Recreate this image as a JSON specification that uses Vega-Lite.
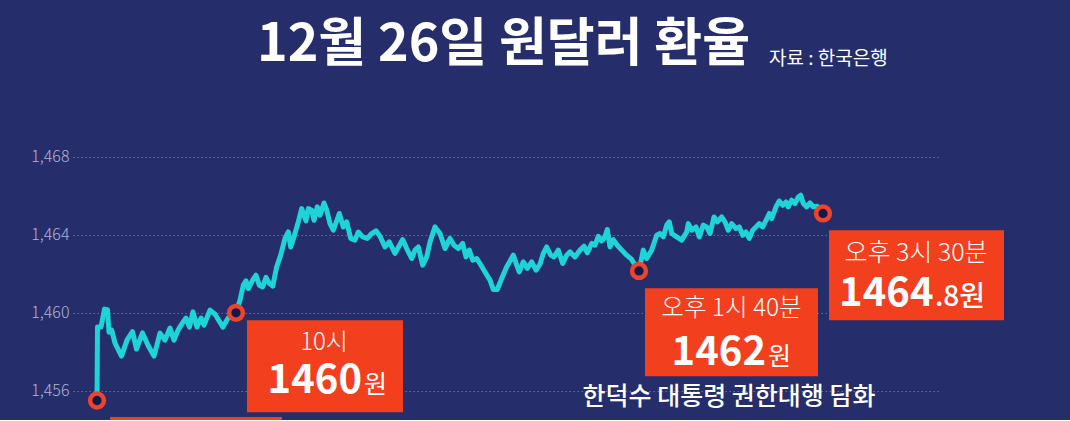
{
  "$schema": "https://vega.github.io/schema/vega-lite/v6.json",
  "autosize": {"type": "none"},
  "padding": {"left": 73, "top": 118, "right": 130, "bottom": 0},
  "width": 867,
  "height": 302,
  "background": "#252e6a",
  "config": {
    "view": {"stroke": null},
    "font": "Noto Sans CJK KR",
    "text": {"font": "Noto Sans CJK KR"}
  },
  "title": {
    "text": "12월 26일 원달러 환율",
    "anchor": "middle",
    "font": "Noto Sans CJK KR",
    "fontSize": 52,
    "fontWeight": 700,
    "color": "#ffffff",
    "offset": -21.5,
    "dx": -3
  },
  "datasets": {
    "line": [
      {"t": 0, "v": 1455.5}, {"t": 0.5, "v": 1459.27}, {"t": 4, "v": 1459.27}, {"t": 7.5, "v": 1460.19}, {"t": 10.5, "v": 1460.16},
      {"t": 12, "v": 1459.01}, {"t": 14.7, "v": 1459.11}, {"t": 18, "v": 1458.45}, {"t": 24.5, "v": 1457.78}, {"t": 30, "v": 1458.6},
      {"t": 35.5, "v": 1459.04}, {"t": 39.5, "v": 1458.14}, {"t": 45.5, "v": 1458.97}, {"t": 51, "v": 1458.34}, {"t": 57, "v": 1457.78},
      {"t": 63, "v": 1458.96}, {"t": 68, "v": 1458.6}, {"t": 73, "v": 1459.22}, {"t": 77, "v": 1458.6}, {"t": 81, "v": 1459.11},
      {"t": 86, "v": 1459.52}, {"t": 89, "v": 1459.73}, {"t": 92.5, "v": 1459.27}, {"t": 96, "v": 1460.05}, {"t": 100, "v": 1459.27},
      {"t": 104, "v": 1459.73}, {"t": 107, "v": 1459.37}, {"t": 113, "v": 1460.14}, {"t": 118, "v": 1459.93}, {"t": 126, "v": 1459.27},
      {"t": 131, "v": 1459.73}, {"t": 139, "v": 1460.0}, {"t": 143, "v": 1460.65}, {"t": 146.3, "v": 1461.42}, {"t": 149, "v": 1461.64},
      {"t": 151.3, "v": 1461.25}, {"t": 155.7, "v": 1461.68}, {"t": 159, "v": 1461.93}, {"t": 162.3, "v": 1461.42}, {"t": 165.7, "v": 1461.33},
      {"t": 169, "v": 1461.82}, {"t": 172.3, "v": 1461.51}, {"t": 175.7, "v": 1461.37}, {"t": 179.7, "v": 1462.36}, {"t": 183.7, "v": 1462.96},
      {"t": 188, "v": 1463.82}, {"t": 191.3, "v": 1464.15}, {"t": 193.7, "v": 1463.38}, {"t": 197, "v": 1463.9}, {"t": 201.3, "v": 1464.67},
      {"t": 204.7, "v": 1465.35}, {"t": 207, "v": 1465.01}, {"t": 209, "v": 1464.72}, {"t": 211.3, "v": 1465.35}, {"t": 214.7, "v": 1465.27},
      {"t": 217, "v": 1464.75}, {"t": 220.3, "v": 1465.44}, {"t": 223, "v": 1465.01}, {"t": 227, "v": 1465.64}, {"t": 229.7, "v": 1465.27},
      {"t": 233, "v": 1464.58}, {"t": 236.3, "v": 1464.24}, {"t": 242.3, "v": 1465.1}, {"t": 246.3, "v": 1464.41}, {"t": 249.7, "v": 1464.67},
      {"t": 253.7, "v": 1463.82}, {"t": 258, "v": 1463.73}, {"t": 261.3, "v": 1464.15}, {"t": 265.7, "v": 1463.9}, {"t": 270.3, "v": 1463.82},
      {"t": 274.7, "v": 1464.07}, {"t": 279, "v": 1464.21}, {"t": 283, "v": 1463.93}, {"t": 288, "v": 1463.38}, {"t": 292.3, "v": 1463.64},
      {"t": 298, "v": 1463.05}, {"t": 301.5, "v": 1463.38}, {"t": 305.7, "v": 1463.76}, {"t": 309.7, "v": 1463.3}, {"t": 314.7, "v": 1462.79},
      {"t": 318, "v": 1463.22}, {"t": 321.3, "v": 1463.38}, {"t": 325.7, "v": 1462.45}, {"t": 329.7, "v": 1462.87}, {"t": 333, "v": 1463.64},
      {"t": 338, "v": 1464.41}, {"t": 343, "v": 1464.07}, {"t": 348, "v": 1463.3}, {"t": 353, "v": 1463.82}, {"t": 357, "v": 1463.47},
      {"t": 361.3, "v": 1463.3}, {"t": 365.7, "v": 1463.56}, {"t": 369, "v": 1462.87}, {"t": 372.3, "v": 1463.22}, {"t": 375.7, "v": 1462.7},
      {"t": 379.7, "v": 1462.79}, {"t": 383, "v": 1462.53}, {"t": 388, "v": 1462.1}, {"t": 393, "v": 1461.68}, {"t": 396.3, "v": 1461.2},
      {"t": 400.3, "v": 1461.2}, {"t": 404.7, "v": 1461.76}, {"t": 409.7, "v": 1462.36}, {"t": 416.3, "v": 1462.96}, {"t": 419.7, "v": 1462.45},
      {"t": 422.3, "v": 1462.1}, {"t": 426.3, "v": 1462.62}, {"t": 430.3, "v": 1462.28}, {"t": 434.7, "v": 1462.62}, {"t": 439, "v": 1462.19},
      {"t": 443, "v": 1462.5}, {"t": 446.3, "v": 1463.05}, {"t": 449.7, "v": 1463.38}, {"t": 453.7, "v": 1462.96}, {"t": 457, "v": 1462.87},
      {"t": 461.3, "v": 1463.22}, {"t": 465.7, "v": 1462.53}, {"t": 469.7, "v": 1462.96}, {"t": 473, "v": 1463.13}, {"t": 478, "v": 1462.87},
      {"t": 483, "v": 1463.22}, {"t": 487, "v": 1463.42}, {"t": 490.3, "v": 1463.08}, {"t": 494.7, "v": 1463.56}, {"t": 498, "v": 1463.47},
      {"t": 501.3, "v": 1463.93}, {"t": 504.7, "v": 1463.69}, {"t": 508, "v": 1463.9}, {"t": 510.3, "v": 1464.28}, {"t": 513, "v": 1463.38},
      {"t": 516.3, "v": 1463.76}, {"t": 520.3, "v": 1463.47}, {"t": 524.7, "v": 1463.22}, {"t": 529.7, "v": 1462.96}, {"t": 534.7, "v": 1462.74},
      {"t": 538, "v": 1462.45}, {"t": 542, "v": 1462.15}, {"t": 546.3, "v": 1463.22}, {"t": 549.7, "v": 1462.79}, {"t": 554.7, "v": 1463.22},
      {"t": 559.7, "v": 1463.98}, {"t": 563, "v": 1464.07}, {"t": 566.3, "v": 1463.9}, {"t": 569.7, "v": 1464.5}, {"t": 572.3, "v": 1464.67},
      {"t": 574.7, "v": 1464.07}, {"t": 579.7, "v": 1463.9}, {"t": 584.7, "v": 1463.73}, {"t": 589.7, "v": 1464.15}, {"t": 591.3, "v": 1464.58},
      {"t": 594.7, "v": 1464.24}, {"t": 599, "v": 1464.41}, {"t": 602.3, "v": 1463.9}, {"t": 606.3, "v": 1464.5}, {"t": 609.7, "v": 1464.41},
      {"t": 613, "v": 1464.07}, {"t": 617, "v": 1464.92}, {"t": 620.3, "v": 1464.67}, {"t": 624.7, "v": 1464.92}, {"t": 628, "v": 1464.67},
      {"t": 631.3, "v": 1464.24}, {"t": 634.7, "v": 1464.58}, {"t": 639, "v": 1464.33}, {"t": 642.3, "v": 1464.41}, {"t": 645.7, "v": 1463.98},
      {"t": 649, "v": 1464.15}, {"t": 652.3, "v": 1463.82}, {"t": 655.7, "v": 1464.24}, {"t": 659, "v": 1464.41}, {"t": 662.3, "v": 1464.58},
      {"t": 665.7, "v": 1464.41}, {"t": 669, "v": 1464.75}, {"t": 672.3, "v": 1465.1}, {"t": 674.7, "v": 1464.84}, {"t": 679, "v": 1465.44},
      {"t": 682.3, "v": 1465.74}, {"t": 685.7, "v": 1465.52}, {"t": 689, "v": 1465.69}, {"t": 691.3, "v": 1465.44}, {"t": 694.7, "v": 1465.78},
      {"t": 698, "v": 1465.61}, {"t": 701.3, "v": 1465.95}, {"t": 703.7, "v": 1466.04}, {"t": 706.3, "v": 1465.61}, {"t": 709.7, "v": 1465.44},
      {"t": 713, "v": 1465.64}, {"t": 716.3, "v": 1465.44}, {"t": 720.3, "v": 1465.47}, {"t": 726, "v": 1465.1}
    ],
    "marks": [
      {"id": "open", "t": 0, "v": 1455.5, "time": "", "big": "", "unit": "", "note": ""},
      {"id": "h10", "t": 139, "v": 1460.0, "time": "10시", "big": "1460", "unit": "원", "note": ""},
      {"id": "h1340", "t": 542, "v": 1462.15, "time": "오후 1시 40분", "big": "1462", "unit": "원", "note": "한덕수 대통령 권한대행 담화"},
      {"id": "h1530", "t": 726, "v": 1465.1, "time": "오후 3시 30분", "big": "1464", "unit": ".8원", "note": ""}
    ]
  },
  "encoding": {
    "x": {"field": "t", "type": "quantitative", "scale": {"domain": [-24, 843]}, "axis": null},
    "y": {
      "field": "v", "type": "quantitative",
      "scale": {"domain": [1454.5, 1470], "zero": false, "nice": false},
      "axis": {
        "values": [1456, 1460, 1464, 1468],
        "format": ",",
        "title": null,
        "domain": false,
        "ticks": false,
        "labelFont": "Noto Sans CJK KR",
        "labelFontSize": 16,
        "labelFontWeight": 300,
        "labelColor": "#b0b4d8",
        "labelPadding": 4,
        "grid": true,
        "gridColor": "#6a72b0",
        "gridDash": [1.5, 2.5],
        "gridWidth": 1,
        "gridOpacity": 0.9
      }
    }
  },
  "layer": [
    {
      "data": {"name": "line"},
      "mark": {"type": "line", "color": "#1fd4d8", "strokeWidth": 5, "strokeJoin": "round", "strokeCap": "round"}
    },
    {
      "data": {"name": "marks"},
      "transform": [{"filter": "datum.id == 'open'"}],
      "mark": {"type": "rect", "color": "#f2401f", "xOffset": 13, "x2Offset": 185, "yOffset": 16.5, "y2Offset": 106},
      "encoding": {"x2": {"field": "t"}, "y2": {"field": "v"}}
    },
    {
      "data": {"name": "marks"},
      "transform": [{"filter": "datum.id == 'h10'"}],
      "mark": {"type": "rect", "color": "#f2401f", "xOffset": 11, "x2Offset": 167, "yOffset": 7.3, "y2Offset": 99.3},
      "encoding": {"x2": {"field": "t"}, "y2": {"field": "v"}}
    },
    {
      "data": {"name": "marks"},
      "transform": [{"filter": "datum.id == 'h1340'"}],
      "mark": {"type": "rect", "color": "#f2401f", "xOffset": 6, "x2Offset": 179, "yOffset": 17.2, "y2Offset": 105.2},
      "encoding": {"x2": {"field": "t"}, "y2": {"field": "v"}}
    },
    {
      "data": {"name": "marks"},
      "transform": [{"filter": "datum.id == 'h1530'"}],
      "mark": {"type": "rect", "color": "#f2401f", "xOffset": 6, "x2Offset": 181, "yOffset": 16.75, "y2Offset": 106.75},
      "encoding": {"x2": {"field": "t"}, "y2": {"field": "v"}}
    },
    {
      "data": {"name": "marks"},
      "mark": {"type": "point", "shape": "circle", "filled": false, "fill": "#121a4d", "fillOpacity": 1, "stroke": "#ef432b", "strokeWidth": 4.5, "size": 190, "opacity": 1}
    },
    {
      "data": {"name": "marks"},
      "transform": [{"filter": "datum.id == 'h10'"}],
      "mark": {"type": "text", "align": "center", "baseline": "alphabetic", "dx": 88, "dy": 37, "fontSize": 24, "fontWeight": 300, "color": "#ffffff"},
      "encoding": {"text": {"field": "time"}}
    },
    {
      "data": {"name": "marks"},
      "transform": [{"filter": "datum.id == 'h10'"}],
      "mark": {"type": "text", "align": "right", "baseline": "alphabetic", "dx": 126, "dy": 80, "fontSize": 40, "fontWeight": 700, "color": "#ffffff"},
      "encoding": {"text": {"field": "big"}}
    },
    {
      "data": {"name": "marks"},
      "transform": [{"filter": "datum.id == 'h10'"}],
      "mark": {"type": "text", "align": "left", "baseline": "alphabetic", "dx": 128, "dy": 80, "fontSize": 25, "fontWeight": 400, "color": "#ffffff"},
      "encoding": {"text": {"field": "unit"}}
    },
    {
      "data": {"name": "marks"},
      "transform": [{"filter": "datum.id == 'h1340'"}],
      "mark": {"type": "text", "align": "center", "baseline": "alphabetic", "dx": 92.5, "dy": 45.5, "fontSize": 24.5, "fontWeight": 300, "color": "#ffffff"},
      "encoding": {"text": {"field": "time"}}
    },
    {
      "data": {"name": "marks"},
      "transform": [{"filter": "datum.id == 'h1340'"}],
      "mark": {"type": "text", "align": "right", "baseline": "alphabetic", "dx": 127, "dy": 94.5, "fontSize": 40, "fontWeight": 700, "color": "#ffffff"},
      "encoding": {"text": {"field": "big"}}
    },
    {
      "data": {"name": "marks"},
      "transform": [{"filter": "datum.id == 'h1340'"}],
      "mark": {"type": "text", "align": "left", "baseline": "alphabetic", "dx": 129, "dy": 94.5, "fontSize": 25, "fontWeight": 400, "color": "#ffffff"},
      "encoding": {"text": {"field": "unit"}}
    },
    {
      "data": {"name": "marks"},
      "transform": [{"filter": "datum.id == 'h1340'"}],
      "mark": {"type": "text", "align": "center", "baseline": "alphabetic", "dx": 90, "dy": 134, "fontSize": 25, "fontWeight": 500, "color": "#ffffff"},
      "encoding": {"text": {"field": "note"}}
    },
    {
      "data": {"name": "marks"},
      "transform": [{"filter": "datum.id == 'h1530'"}],
      "mark": {"type": "text", "align": "center", "baseline": "alphabetic", "dx": 93, "dy": 48, "fontSize": 25, "fontWeight": 300, "color": "#ffffff"},
      "encoding": {"text": {"field": "time"}}
    },
    {
      "data": {"name": "marks"},
      "transform": [{"filter": "datum.id == 'h1530'"}],
      "mark": {"type": "text", "align": "right", "baseline": "alphabetic", "dx": 110.5, "dy": 92.5, "fontSize": 40, "fontWeight": 700, "color": "#ffffff"},
      "encoding": {"text": {"field": "big"}}
    },
    {
      "data": {"name": "marks"},
      "transform": [{"filter": "datum.id == 'h1530'"}],
      "mark": {"type": "text", "align": "left", "baseline": "alphabetic", "dx": 112, "dy": 92.5, "fontSize": 28, "fontWeight": 500, "color": "#ffffff"},
      "encoding": {"text": {"field": "unit"}}
    },
    {
      "data": {"name": "marks"},
      "transform": [{"filter": "datum.id == 'h1530'"}],
      "mark": {"type": "text", "align": "left", "baseline": "alphabetic", "dx": -54, "dy": -148, "fontSize": 19, "fontWeight": 400, "color": "#ffffff"},
      "encoding": {"text": {"value": "자료 : 한국은행"}}
    }
  ]
}
